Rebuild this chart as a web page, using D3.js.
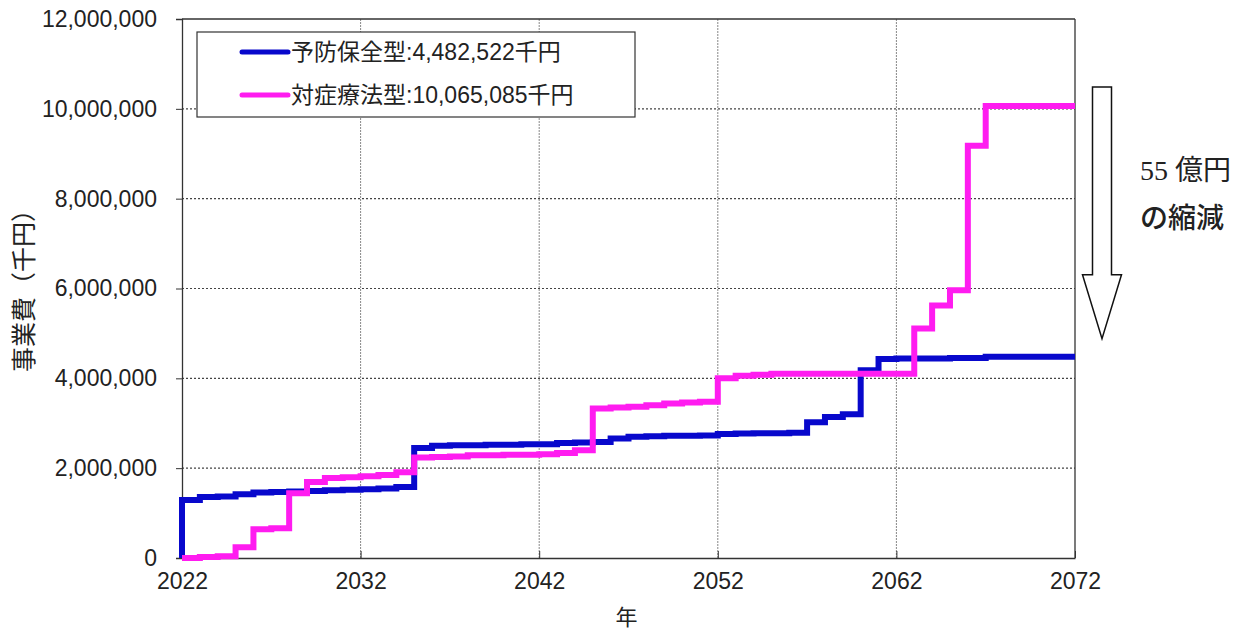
<!DOCTYPE html>
<html>
<head>
<meta charset="utf-8">
<script src="https://cdn.jsdelivr.net/npm/d3@7"></script>
<style>
  html, body { margin: 0; padding: 0; background: #fff; }
  svg { display: block; }
  text { font-family: "Liberation Sans", "Noto Sans CJK JP", sans-serif; fill: #222; }
</style>
</head>
<body>
<svg id="chart" width="1252" height="634"></svg>
<script>
// Annual cumulative project cost (千円), 2022–2072
const years = d3.range(2022, 2073);

const preventive = [
  1290000, 1360000, 1370000, 1420000, 1460000, 1470000, 1480000, 1490000, 1510000, 1520000,
  1530000, 1550000, 1580000, 2450000, 2500000, 2510000, 2510000, 2520000, 2520000, 2530000,
  2530000, 2560000, 2570000, 2580000, 2660000, 2700000, 2710000, 2720000, 2720000, 2730000,
  2760000, 2770000, 2780000, 2780000, 2790000, 3020000, 3140000, 3200000, 4180000, 4430000,
  4440000, 4440000, 4440000, 4450000, 4450000, 4482522, 4482522, 4482522, 4482522, 4482522,
  4482522
];

const reactive = [
  0, 20000, 40000, 240000, 640000, 660000, 1440000, 1690000, 1780000, 1800000,
  1820000, 1850000, 1910000, 2240000, 2250000, 2260000, 2290000, 2290000, 2300000, 2300000,
  2310000, 2340000, 2400000, 3330000, 3350000, 3370000, 3400000, 3440000, 3460000, 3480000,
  4000000, 4060000, 4080000, 4100000, 4100000, 4100000, 4100000, 4100000, 4100000, 4100000,
  4100000, 5110000, 5620000, 5960000, 9180000, 10065085, 10065085, 10065085, 10065085, 10065085,
  10065085
];

const seriesNames = ["予防保全型", "対症療法型"];
const seriesTotals = [4482522, 10065085];
const seriesColors = ["#0808cc", "#ff1cf0"];

const yTicks = [0, 2000000, 4000000, 6000000, 8000000, 10000000, 12000000];
const xTicks = [2022, 2032, 2042, 2052, 2062, 2072];

const svg = d3.select("#chart");
const plotL = 182, plotR = 1075, plotT = 19, plotB = 558;

const x = d3.scaleLinear().domain([2022, 2072]).range([plotL, plotR]);
const y = d3.scaleLinear().domain([0, 12000000]).range([plotB, plotT]);

const fmt = d3.format(",");

// gridlines
svg.append("g")
  .selectAll("line")
  .data(yTicks.filter(d => d > 0 && d < 12000000))
  .join("line")
  .attr("x1", plotL).attr("x2", plotR)
  .attr("y1", d => y(d)).attr("y2", d => y(d))
  .attr("stroke", "#444").attr("stroke-width", 1.2).attr("stroke-dasharray", "2,2");

svg.append("g")
  .selectAll("line")
  .data(xTicks.filter(d => d > 2022 && d < 2072))
  .join("line")
  .attr("x1", d => x(d)).attr("x2", d => x(d))
  .attr("y1", plotT).attr("y2", plotB)
  .attr("stroke", "#888").attr("stroke-width", 1).attr("stroke-dasharray", "2,1");

// y axis
const yAxis = svg.append("g")
  .attr("transform", `translate(${plotL},0)`)
  .call(d3.axisLeft(y).tickValues(yTicks).tickFormat(fmt).tickSize(6).tickPadding(19));
yAxis.select(".domain").attr("stroke", "#333").attr("stroke-width", 1.3);
yAxis.selectAll(".tick line").attr("stroke", "#333");
yAxis.selectAll(".tick text").attr("font-size", 23).attr("fill", "#222")
  .style("font-family", "'Liberation Sans', sans-serif");

// x axis
const xAxis = svg.append("g")
  .attr("transform", `translate(0,${plotB})`)
  .call(d3.axisBottom(x).tickValues(xTicks).tickFormat(d3.format("d")).tickSizeInner(-7).tickSizeOuter(0).tickPadding(15));
xAxis.select(".domain").attr("stroke", "#333").attr("stroke-width", 1.3);
xAxis.selectAll(".tick line").attr("stroke", "#333");
xAxis.selectAll(".tick text").attr("font-size", 23).attr("fill", "#222")
  .style("font-family", "'Liberation Sans', sans-serif");

// frame top / right
svg.append("line").attr("x1", plotL).attr("x2", plotR).attr("y1", plotT).attr("y2", plotT)
  .attr("stroke", "#333").attr("stroke-width", 1.3);
svg.append("line").attr("x1", plotR).attr("x2", plotR).attr("y1", plotT).attr("y2", plotB)
  .attr("stroke", "#333").attr("stroke-width", 1.3);

// axis titles
svg.append("text")
  .attr("transform", `translate(33,${(plotT + plotB) / 2 - 4}) rotate(-90)`)
  .attr("text-anchor", "middle")
  .attr("font-size", 25)
  .style("font-family", "'Noto Sans CJK JP', sans-serif")
  .text("事業費（千円）");

svg.append("text")
  .attr("x", (plotL + plotR) / 2 - 2).attr("y", 625)
  .attr("text-anchor", "middle")
  .attr("font-size", 22)
  .style("font-family", "'Noto Sans CJK JP', sans-serif")
  .text("年");

// step lines
const line = d3.line()
  .x(d => x(d[0]))
  .y(d => y(d[1]))
  .curve(d3.curveStepAfter);

[preventive, reactive].forEach((vals, i) => {
  const pts = [[2022, 0]].concat(years.map((yr, k) => [yr, vals[k]]));
  svg.append("path")
    .datum(pts)
    .attr("fill", "none")
    .attr("stroke", seriesColors[i])
    .attr("stroke-width", 6)
    .attr("stroke-linejoin", "miter")
    .attr("d", line);
});

// legend
const lg = svg.append("g");
lg.append("rect")
  .attr("x", 197).attr("y", 32).attr("width", 438).attr("height", 85)
  .attr("fill", "#fff").attr("stroke", "#333").attr("stroke-width", 1.2);
seriesNames.forEach((name, i) => {
  const cy = 52 + i * 43;
  lg.append("line")
    .attr("x1", 242).attr("x2", 288).attr("y1", cy).attr("y2", cy)
    .attr("stroke", seriesColors[i]).attr("stroke-width", 5).attr("stroke-linecap", "round");
  lg.append("text")
    .attr("x", 291).attr("y", cy + 8)
    .attr("font-size", 23)
    .text(`${name}:${fmt(seriesTotals[i])}千円`);
});

// reduction arrow
const arrowTop = y(seriesTotals[1]) - 19;
const arrowTip = y(seriesTotals[0]) - 18;
const ax = 1102, shaftHalf = 9.5, headHalf = 19.5, headLen = 64;
const arrowPath = d3.path();
arrowPath.moveTo(ax - shaftHalf, arrowTop);
arrowPath.lineTo(ax + shaftHalf, arrowTop);
arrowPath.lineTo(ax + shaftHalf, arrowTip - headLen);
arrowPath.lineTo(ax + headHalf, arrowTip - headLen);
arrowPath.lineTo(ax, arrowTip);
arrowPath.lineTo(ax - headHalf, arrowTip - headLen);
arrowPath.lineTo(ax - shaftHalf, arrowTip - headLen);
arrowPath.closePath();
svg.append("path").attr("d", arrowPath.toString())
  .attr("fill", "#fff").attr("stroke", "#111").attr("stroke-width", 1.5);

const ann = svg.append("text").attr("x", 1140).attr("y", 180).attr("font-size", 28).attr("fill", "#111");
ann.append("tspan").style("font-family", "'Liberation Serif', serif").text("55 ");
ann.append("tspan").style("font-family", "'Noto Sans CJK JP', sans-serif").text("億円");
svg.append("text").attr("x", 1140).attr("y", 228).attr("font-size", 28).attr("fill", "#111")
  .style("font-family", "'Noto Sans CJK JP', sans-serif").style("font-weight", "500")
  .text("の縮減");
</script>
</body>
</html>
